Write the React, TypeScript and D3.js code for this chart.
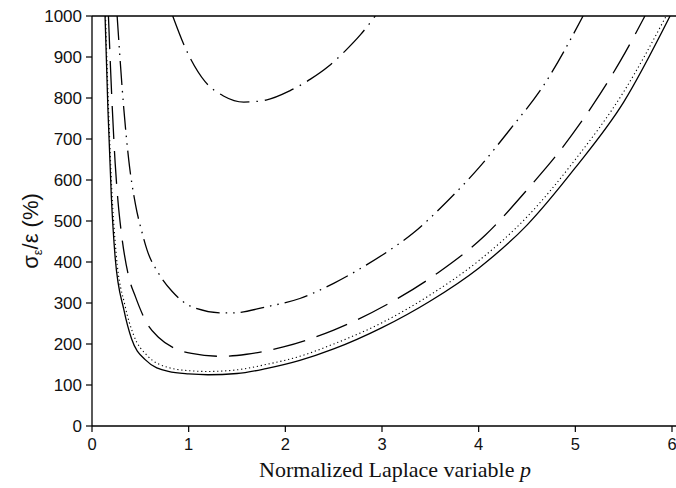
import React from "react";
import * as d3 from "d3";

const xTicks = [0, 1, 2, 3, 4, 5, 6];
const yTicks = [0, 100, 200, 300, 400, 500, 600, 700, 800, 900, 1000];

const solidP = [0.135, 0.165, 0.2, 0.24, 0.33, 0.41, 0.55, 0.79, 1.0, 1.2, 1.5, 1.8, 2.15, 2.5, 3.0, 3.5, 4.0, 4.5, 5.0, 5.5, 5.98];
const solidV = [1000, 770, 560, 410, 283, 212, 162, 133, 127, 125, 128, 140, 160, 188, 240, 305, 385, 490, 630, 790, 1000];

const dottedP = [0.14, 0.17, 0.205, 0.25, 0.34, 0.43, 0.57, 0.8, 1.0, 1.2, 1.5, 1.8, 2.15, 2.5, 3.0, 3.5, 4.0, 4.5, 5.0, 5.5, 5.94];
const dottedV = [1000, 780, 575, 420, 295, 222, 172, 142, 135, 133, 137, 150, 170, 200, 252, 320, 403, 510, 650, 815, 1000];

const dashedP = [0.17, 0.205, 0.24, 0.27, 0.3, 0.38, 0.45, 0.57, 0.69, 0.85, 1.03, 1.34, 1.6, 1.98, 2.5, 3.08, 3.58, 4.07, 4.53, 4.82, 5.17, 5.46, 5.72];
const dashedV = [1000, 800, 640, 545, 478, 364, 315, 250, 216, 190, 177, 170, 175, 193, 234, 300, 374, 466, 584, 665, 779, 888, 1000];

const dashDotDotP = [0.26, 0.33, 0.38, 0.45, 0.52, 0.57, 0.69, 0.83, 1.03, 1.34, 1.46, 1.81, 2.15, 2.5, 2.84, 3.08, 3.32, 3.67, 4.01, 4.32, 4.67, 5.08];
const dashDotDotV = [1000, 771, 649, 540, 470, 429, 372, 328, 291, 276, 276, 291, 311, 348, 393, 429, 470, 547, 632, 722, 830, 1000];

const dashDotP = [0.835, 0.96, 1.17, 1.36, 1.57, 1.8, 2.05, 2.26, 2.45, 2.62, 2.78, 2.93];
const dashDotV = [1000, 925, 840, 805, 790, 795, 818, 846, 878, 915, 955, 1000];

const W = 676;
const H = 488;
const left = 92;
const right = 672;
const top = 16;
const bottom = 426;

export default function App() {
  const x = d3.scaleLinear().domain([0, 6]).range([left, right]);
  const y = d3.scaleLinear().domain([0, 1000]).range([bottom, top]);
  const line = d3
    .line<[number, number]>()
    .x((d) => x(d[0]))
    .y((d) => y(d[1]))
    .curve(d3.curveMonotoneX);
  const mk = (ps: number[], vs: number[]) => line(ps.map((p, i) => [p, vs[i]] as [number, number])) || "";

  const series = [
    { d: mk(solidP, solidV), dash: "none", w: 1.3 },
    { d: mk(dottedP, dottedV), dash: "1.2,2.8", w: 1.1 },
    { d: mk(dashedP, dashedV), dash: "33,12", w: 1.3 },
    { d: mk(dashDotDotP, dashDotDotV), dash: "24,6,1.5,6,1.5,6", w: 1.3 },
    { d: mk(dashDotP, dashDotV), dash: "31,7,1.5,7", w: 1.3 },
  ];

  return (
    <div style={{ position: "absolute", left: 0, top: 0 }}>
      <svg width={W} height={H} style={{ display: "block", background: "#fff" }}>
        <defs>
          <clipPath id="plotclip">
            <rect x={left} y={top} width={W - left} height={bottom - top} />
          </clipPath>
        </defs>
        <g clipPath="url(#plotclip)">
          {series.map((s, i) => (
            <path key={i} d={s.d} fill="none" stroke="#000" strokeWidth={s.w} strokeDasharray={s.dash} />
          ))}
        </g>
        <line x1={left} x2={left} y1={top} y2={bottom} stroke="#000" strokeWidth={1.3} />
        <line x1={left} x2={W} y1={bottom} y2={bottom} stroke="#000" strokeWidth={1.3} />
        <line x1={left} x2={W} y1={top} y2={top} stroke="#000" strokeWidth={1.3} />
        {yTicks.map((t) => (
          <g key={"y" + t}>
            <line x1={left - 6} x2={left} y1={y(t)} y2={y(t)} stroke="#000" strokeWidth={1.2} />
            <text
              x={left - 10}
              y={y(t)}
              dy="0.36em"
              textAnchor="end"
              fontFamily="'Liberation Sans', Arial, sans-serif"
              fontSize={17}
              fill="#111"
            >
              {t}
            </text>
          </g>
        ))}
        {xTicks.map((t) => (
          <g key={"x" + t}>
            <line x1={x(t)} x2={x(t)} y1={bottom} y2={bottom + 6} stroke="#000" strokeWidth={1.2} />
            <text
              x={x(t)}
              y={bottom + 24}
              textAnchor="middle"
              fontFamily="'Liberation Sans', Arial, sans-serif"
              fontSize={16.5}
              fill="#111"
            >
              {t}
            </text>
          </g>
        ))}
        <text
          transform={`translate(38,231) rotate(-90)`}
          textAnchor="middle"
          fontFamily="'Liberation Sans', Arial, sans-serif"
          fontSize={22}
          fill="#111"
        >
          <tspan>σ</tspan>
          <tspan fontSize={13} dy={4}>ε</tspan>
          <tspan dy={-4}>/ε (%)</tspan>
        </text>
        <text
          x={395}
          y={477}
          textAnchor="middle"
          fontFamily="'Liberation Serif', 'Times New Roman', serif"
          fontSize={22}
          fill="#111"
        >
          Normalized Laplace variable <tspan fontStyle="italic">p</tspan>
        </text>
      </svg>
    </div>
  );
}
